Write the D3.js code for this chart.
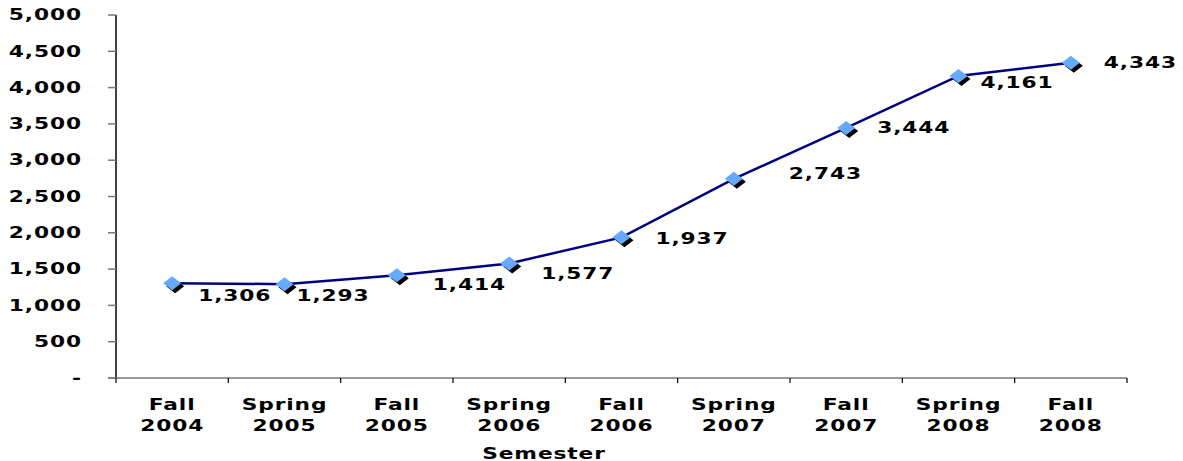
<!DOCTYPE html>
<html>
<head>
<meta charset="utf-8">
<script src="https://cdn.jsdelivr.net/npm/d3@7"></script>
<style>
  body { margin: 0; background: #fff; }
  text { font-family: "DejaVu Sans", Verdana, sans-serif; font-weight: bold; fill: #000; letter-spacing: 0.6px; }
</style>
</head>
<body>
<script>
var semesters = ["Fall 2004", "Spring 2005", "Fall 2005", "Spring 2006", "Fall 2006",
                 "Spring 2007", "Fall 2007", "Spring 2008", "Fall 2008"];
var enrollment = [1306, 1293, 1414, 1577, 1937, 2743, 3444, 4161, 4343];
var yTicks = [0, 500, 1000, 1500, 2000, 2500, 3000, 3500, 4000, 4500, 5000];

// label nudges (px) so values sit like the original
var labelShift = [[26, 13], [12, 12], [36, 9], [32, 10], [34, 1], [55, -5], [31, 0], [22, 7], [33, 0]];

var W = 1183, H = 461;
var plotL = 116, plotR = 1127, plotT = 15, plotB = 378;
var sx = 1.45; // wide text look

var svg = d3.select("body").append("svg")
            .attr("width", W)
            .attr("height", H);

var x = d3.scaleBand().domain(semesters).range([plotL, plotR]);
var y = d3.scaleLinear().domain([0, 5000]).range([plotB, plotT]);

function wideText(g, str, tx, ty, anchor) {
  var t = g.append("g").attr("transform", "translate(" + tx + "," + ty + ") scale(" + sx + ",1)")
           .append("text")
           .attr("text-anchor", anchor)
           .attr("dominant-baseline", "central")
           .style("font-size", "15px")
           .text(str);
  return t;
}

// y axis
var yAxis = svg.append("g");
yAxis.append("line").attr("x1", plotL).attr("x2", plotL).attr("y1", plotT).attr("y2", plotB)
     .attr("stroke", "#000").attr("stroke-width", 1.5);
yAxis.selectAll("line.tick").data(yTicks).enter().append("line")
     .attr("class", "tick")
     .attr("x1", plotL - 8).attr("x2", plotL)
     .attr("y1", function(d) { return y(d); })
     .attr("y2", function(d) { return y(d); })
     .attr("stroke", "#777").attr("stroke-width", 1.5);
yTicks.forEach(function(d) {
  wideText(yAxis, d === 0 ? "-" : d3.format(",")(d), 82, y(d), "end");
});

// x axis
var xAxis = svg.append("g");
xAxis.append("line").attr("x1", plotL - 8).attr("x2", plotR).attr("y1", plotB).attr("y2", plotB)
     .attr("stroke", "#777").attr("stroke-width", 1.5);
var edges = semesters.map(function(s) { return x(s); }).concat([plotR]);
xAxis.selectAll("line.tick").data(edges).enter().append("line")
     .attr("class", "tick")
     .attr("x1", function(d) { return d; }).attr("x2", function(d) { return d; })
     .attr("y1", plotB).attr("y2", plotB + 5)
     .attr("stroke", "#000").attr("stroke-width", 1.2);
semesters.forEach(function(s) {
  var parts = s.split(" ");
  var cx = x(s) + x.bandwidth() / 2;
  wideText(xAxis, parts[0], cx, 405, "middle");
  wideText(xAxis, parts[1], cx, 426, "middle");
});
wideText(svg, "Semester", 544, 454, "middle");

// line
var line = d3.line()
  .x(function(d, i) { return x(semesters[i]) + x.bandwidth() / 2; })
  .y(function(d) { return y(d); });

svg.append("path").datum(enrollment)
   .attr("d", line)
   .attr("fill", "none")
   .attr("stroke", "#000080")
   .attr("stroke-width", 2.5);

// markers with shadow
var diamond = "M0,-7 L9,0 L0,7 L-9,0 Z";
var pts = svg.selectAll("g.pt").data(enrollment).enter().append("g")
   .attr("class", "pt")
   .attr("transform", function(d, i) {
     return "translate(" + (x(semesters[i]) + x.bandwidth() / 2) + "," + y(d) + ")";
   });
pts.append("path").attr("d", diamond).attr("transform", "translate(3,3)").attr("fill", "#000");
pts.append("path").attr("d", diamond).attr("fill", "#66aaff");

// value labels
enrollment.forEach(function(d, i) {
  var px = x(semesters[i]) + x.bandwidth() / 2 + labelShift[i][0];
  var py = y(d) + labelShift[i][1];
  wideText(svg, d3.format(",")(d), px, py, "start");
});
</script>
</body>
</html>
